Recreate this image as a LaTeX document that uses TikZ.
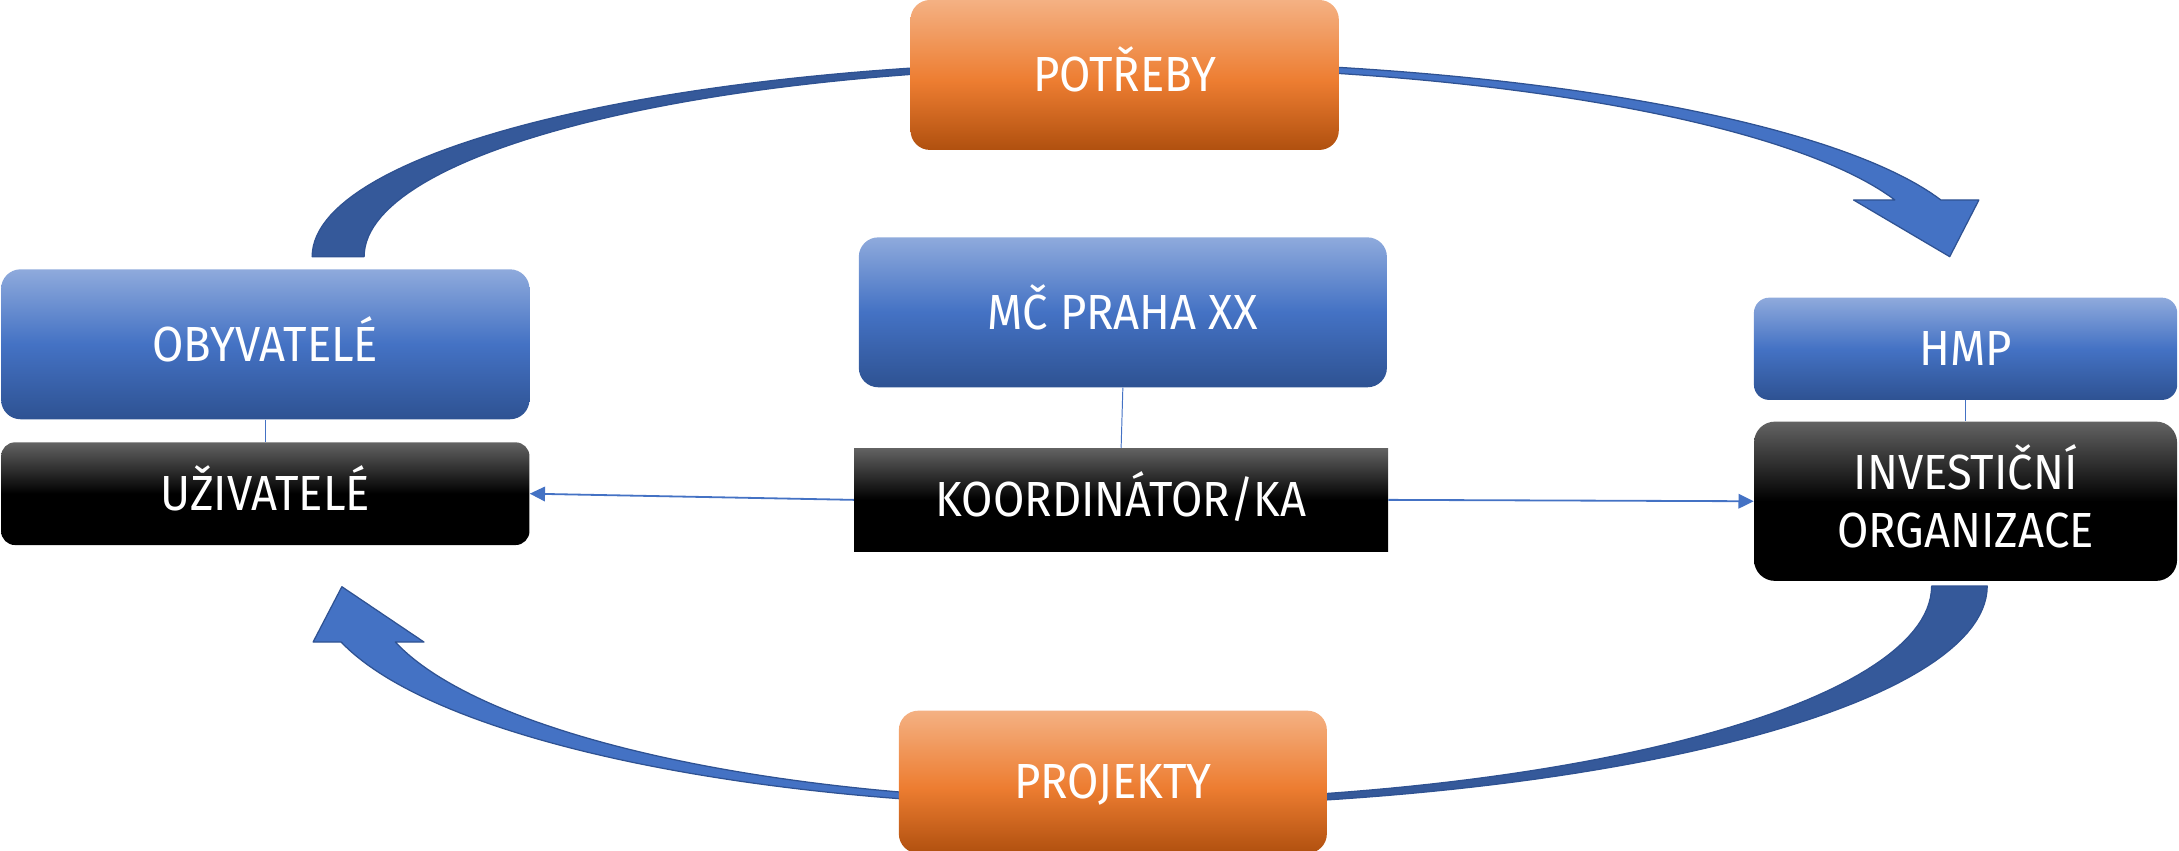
\documentclass[tikz,border=0pt]{standalone}
\usepackage{fontspec}
\setmainfont{Fira Sans}[FakeStretch=0.92]
\usetikzlibrary{arrows.meta}
\definecolor{bluetop}{HTML}{8FAADC}
\definecolor{bluemid}{HTML}{4472C4}
\definecolor{bluebot}{HTML}{2E5292}
\definecolor{orgtop}{HTML}{F4B183}
\definecolor{orgmid}{HTML}{ED7D31}
\definecolor{orgbot}{HTML}{B0500F}
\definecolor{graytop}{HTML}{636363}
\definecolor{arrdark}{HTML}{35599A}
\definecolor{arrlight}{HTML}{4472C4}
\definecolor{arrline}{HTML}{2F5292}
\definecolor{conncol}{HTML}{4472C4}
\pgfdeclareverticalshading{blueshade}{100bp}{color(0bp)=(bluebot); color(25bp)=(bluebot); color(50bp)=(bluemid); color(75bp)=(bluetop); color(100bp)=(bluetop)}
\pgfdeclareverticalshading{orangeshade}{100bp}{color(0bp)=(orgbot); color(25bp)=(orgbot); color(48bp)=(orgmid); color(75bp)=(orgtop); color(100bp)=(orgtop)}
\pgfdeclareverticalshading{blackshade}{100bp}{color(0bp)=(black); color(25bp)=(black); color(50bp)=(black); color(75bp)=(graytop); color(100bp)=(graytop)}
\newcommand\boxfont{\fontsize{35.5pt}{42pt}\selectfont}
\tikzset{
  box/.style={rectangle, inner sep=0pt, text=white, font=\boxfont, align=center,
              text height=24.5pt, text depth=0pt},
  bluebox/.style={box, shading=blueshade, rounded corners=14pt},
  orangebox/.style={box, shading=orangeshade, rounded corners=14pt},
  blackbox/.style={box, shading=blackshade, rounded corners=12pt},
  conn/.style={draw=conncol, line width=0.7pt},
  connarrow/.style={draw=conncol, line width=1.3pt, -{Triangle[length=11pt,width=10.5pt]}},
  arrbody/.style={draw=arrline, line width=0.9pt, line join=round},
}
\begin{document}
\begin{tikzpicture}[x=1pt,y=-1pt]
\useasboundingbox (0,0) rectangle (1568,612);

% top curved arrow (behind boxes)
\path[arrbody, fill=arrdark]
  plot[domain=180:90, samples=60, variable=\t] ({810+585.4*cos(\t)}, {184.7-140.7*sin(\t)})
  -- plot[domain=90:180, samples=60, variable=\t] ({810+548*cos(\t)}, {184.7-136.7*sin(\t)})
  -- cycle;
\path[arrbody, fill=arrlight]
  plot[domain=90:16.86, samples=60, variable=\t] ({810+613*cos(\t)}, {184.7-140.7*sin(\t)})
  -- (1424,143.9) -- (1403,184.7) -- (1333.8,143.9)
  -- plot[domain=17.37:90, samples=60, variable=\t] ({810+580*cos(\t)}, {184.7-136.7*sin(\t)})
  -- cycle;

% bottom curved arrow
\path[arrbody, fill=arrdark]
  plot[domain=0:90, samples=60, variable=\t] ({800+630*cos(\t)}, {421.7+158.8*sin(\t)})
  -- plot[domain=90:0, samples=60, variable=\t] ({800+590*cos(\t)}, {421.7+154.7*sin(\t)})
  -- cycle;
\path[arrbody, fill=arrlight]
  plot[domain=90:165.3, samples=60, variable=\t] ({800+573.3*cos(\t)}, {421.7+158.8*sin(\t)})
  -- (225.3,462) -- (246,422.2) -- (305.1,462)
  -- plot[domain=164.9:90, samples=60, variable=\t] ({800+534*cos(\t)}, {421.7+154.7*sin(\t)})
  -- cycle;

% boxes
\node[orangebox, minimum width=308.2pt, minimum height=107.9pt] (pot) at (809.3,53.95) {POTŘEBY};
\node[bluebox, minimum width=380pt, minimum height=107.9pt] (mc) at (808,224.75) {MČ PRAHA XX};
\node[bluebox, minimum width=380.2pt, minimum height=107.9pt] (obyv) at (190.9,247.75) {OBYVATELÉ};
\node[blackbox, rounded corners=10pt, minimum width=380.2pt, minimum height=73.9pt] (uziv) at (190.9,355.25) {UŽIVATELÉ};
\node[box, shading=blackshade, minimum width=384.1pt, minimum height=74.6pt] (koord) at (806.75,359.7) {KOORDINÁTOR/KA};
\node[bluebox, rounded corners=11pt, minimum width=304.6pt, minimum height=73.6pt] (hmp) at (1414.4,251) {HMP};
\node[blackbox, rounded corners=15pt, text height=66.5pt, minimum width=304.4pt, minimum height=114.6pt] (inv) at (1414.4,360.7) {INVESTIČNÍ\\ORGANIZACE};
\node[orangebox, minimum width=308pt, minimum height=102.6pt] (proj) at (800.8,562.7) {PROJEKTY};

% connectors
\draw[conn] (obyv.south) -- (uziv.north);
\draw[conn] (mc.south) -- (koord.north);
\draw[conn] (hmp.south) -- (inv.north);
\draw[connarrow] (koord.west) -- (uziv.east);
\draw[connarrow] (koord.east) -- (inv.west);
\end{tikzpicture}
\end{document}
